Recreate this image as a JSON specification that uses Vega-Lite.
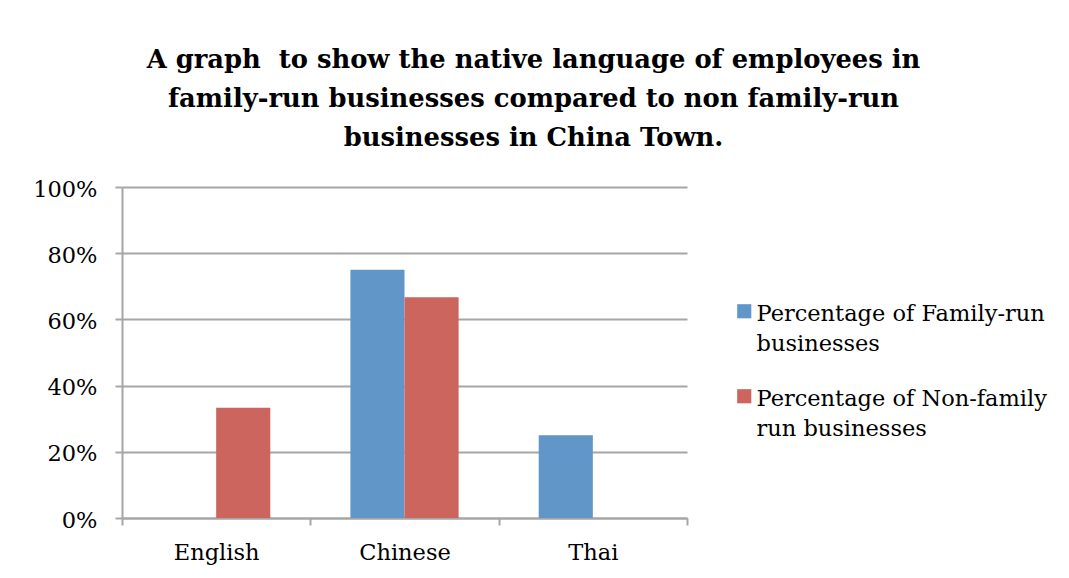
{
  "$schema": "https://vega.github.io/schema/vega-lite/v6.json",
  "width": 565,
  "height": 331,
  "autosize": "none",
  "padding": {"left": 122, "top": 187, "right": 382, "bottom": 60},
  "background": "white",
  "title": {
    "text": ["A graph\u00a0 to show the native language of employees in", "family-run businesses compared to non family-run", "businesses in China Town."],
    "font": "DejaVu Serif",
    "fontSize": 25.8,
    "fontWeight": "bold",
    "color": "black",
    "anchor": "middle",
    "lineHeight": 39,
    "dx": 129,
    "offset": 26
  },
  "data": {
    "values": [
      {"language": "English", "series": "Percentage of Family-run businesses", "value": 0},
      {"language": "English", "series": "Percentage of Non-family run businesses", "value": 0.333},
      {"language": "Chinese", "series": "Percentage of Family-run businesses", "value": 0.75},
      {"language": "Chinese", "series": "Percentage of Non-family run businesses", "value": 0.667},
      {"language": "Thai", "series": "Percentage of Family-run businesses", "value": 0.25},
      {"language": "Thai", "series": "Percentage of Non-family run businesses", "value": 0}
    ]
  },
  "mark": {"type": "bar"},
  "encoding": {
    "x": {
      "field": "language",
      "type": "nominal",
      "sort": ["English", "Chinese", "Thai"],
      "scale": {"paddingInner": 0, "paddingOuter": 0},
      "axis": {
        "title": null,
        "labelAngle": 0,
        "tickBand": "extent",
        "domainColor": "#A6A6A6",
        "domainWidth": 2,
        "tickColor": "#A6A6A6",
        "tickWidth": 2,
        "tickSize": 7,
        "labelPadding": 16,
        "labelFont": "DejaVu Serif",
        "labelFontSize": 22.5,
        "labelColor": "black",
        "grid": false
      }
    },
    "xOffset": {
      "field": "series",
      "type": "nominal",
      "scale": {"paddingInner": 0, "paddingOuter": 0.74}
    },
    "y": {
      "field": "value",
      "type": "quantitative",
      "scale": {"domain": [0, 1], "nice": false},
      "axis": {
        "title": null,
        "format": ".0%",
        "values": [0, 0.2, 0.4, 0.6, 0.8, 1],
        "domainColor": "#A6A6A6",
        "domainWidth": 2,
        "tickColor": "#A6A6A6",
        "tickWidth": 2,
        "tickSize": 7,
        "gridColor": "#A6A6A6",
        "gridWidth": 2,
        "labelPadding": 18,
        "labelOffset": 2,
        "labelFont": "DejaVu Serif",
        "labelFontSize": 22.5,
        "labelColor": "black"
      }
    },
    "color": {
      "field": "series",
      "type": "nominal",
      "scale": {"domain": ["Percentage of Family-run businesses", "Percentage of Non-family run businesses"], "range": ["#6196C9", "#CB655E"]},
      "legend": {
        "title": null,
        "orient": "none",
        "legendX": 611,
        "legendY": 113,
        "symbolType": "square",
        "symbolSize": 200,
        "symbolStrokeWidth": 0,
        "labelFont": "DejaVu Serif",
        "labelFontSize": 22.5,
        "labelColor": "black",
        "labelLimit": 400,
        "labelOffset": 1,
        "rowPadding": 29,
        "labelBaseline": "top",
        "labelExpr": "datum.label == 'Percentage of Family-run businesses' ? ['Percentage of Family-run', 'businesses'] : ['Percentage of Non-family', 'run businesses']",
        "encode": {"labels": {"update": {"lineHeight": {"value": 30}, "dy": {"value": -8}}}}
      }
    }
  },
  "config": {
    "view": {"stroke": null}
  }
}
